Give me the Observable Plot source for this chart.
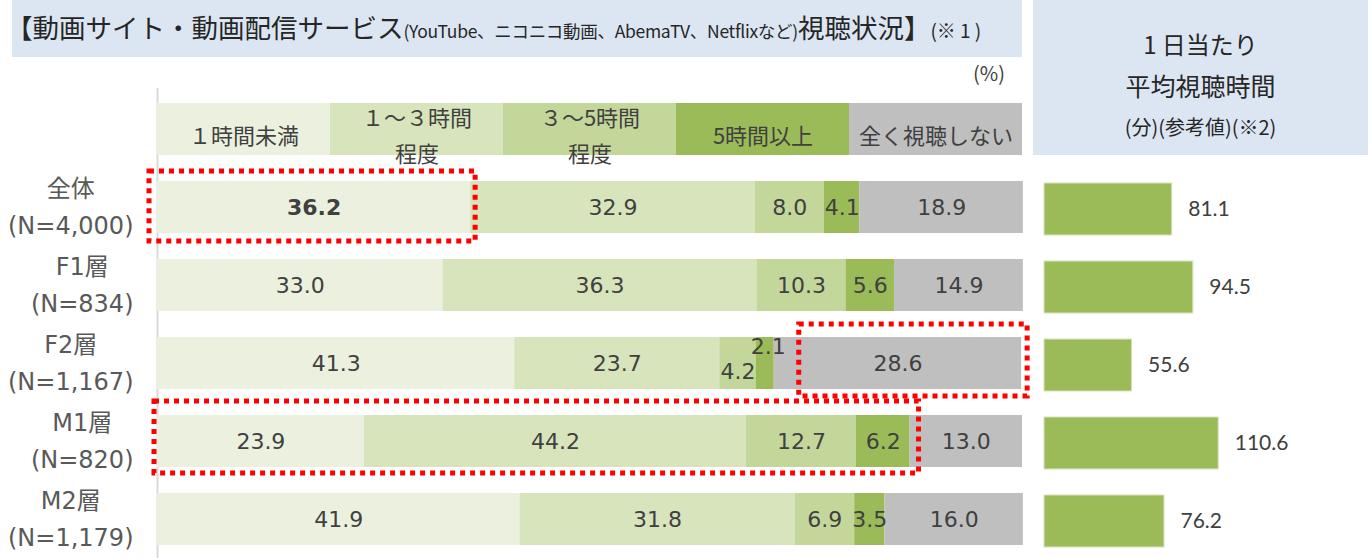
<!DOCTYPE html>
<html><head><meta charset="utf-8">
<script src="https://cdn.jsdelivr.net/npm/d3@7"></script>
<script src="https://cdn.jsdelivr.net/npm/@observablehq/plot@0.6"></script>
<style>
body{margin:0;background:#fff;}
#wrap{position:relative;width:1372px;height:558px;overflow:hidden;font-family:"Noto Sans CJK JP",sans-serif;color:#404040;}
#title{position:absolute;left:12px;top:0;width:1010px;height:57px;background:#dce6f2;z-index:2;white-space:nowrap;line-height:54px;text-indent:-6px;color:#262626;}
#title .big{font-size:26.5px;}
#title .small{font-size:17.5px;letter-spacing:-0.3px;}
#title .note{font-size:19px;}
#pct{position:absolute;left:973px;top:58px;font-size:20px;z-index:2;color:#404040;}
#rhead{position:absolute;left:1033px;top:0;width:335px;height:155px;background:#dce6f2;z-index:2;text-align:center;color:#262626;}
#rhead div{position:absolute;left:0;width:100%;}
#leftc{position:absolute;left:0;top:0;}
#rightc{position:absolute;left:1030px;top:0;}
</style></head>
<body>
<div id="wrap">
  <div id="title"><span class="big">【動画サイト・動画配信サービス</span><span class="small">(YouTube、ニコニコ動画、AbemaTV、Netflixなど)</span><span class="big">視聴状況】</span><span class="note">(※ 1 )</span></div>
  <div id="pct">(%)</div>
  <div id="rhead">
    <div style="top:26px;font-size:24px;line-height:36px;">1 日当たり</div>
    <div style="top:66px;font-size:25px;line-height:38px;">平均視聴時間</div>
    <div style="top:112px;font-size:20px;line-height:30px;">(分)(参考値)(※2)</div>
  </div>
  <div id="leftc"></div>
  <div id="rightc"></div>
</div>
<script>
// ---- data ----
const groups = ["全体", "F1層", "F2層", "M1層", "M2層"];
const sampleSizes = ["(N=4,000)", "(N=834)", "(N=1,167)", "(N=820)", "(N=1,179)"];
const categories = ["１時間未満", "１～３時間\n程度", "３～5時間\n程度", "5時間以上", "全く視聴しない"];
const categoryColors = ["#ebf1de", "#d8e4bc", "#c4d79b", "#9bbb59", "#bfbfbf"];
const lessThan1h = [36.2, 33.0, 41.3, 23.9, 41.9];
const from1to3h = [32.9, 36.3, 23.7, 44.2, 31.8];
const from3to5h = [8.0, 10.3, 4.2, 12.7, 6.9];
const over5h = [4.1, 5.6, 2.1, 6.2, 3.5];
const neverWatch = [18.9, 14.9, 28.6, 13.0, 16.0];
const avgMinutes = [81.1, 94.5, 55.6, 110.6, 76.2];

// ---- build tables ----
const series = [lessThan1h, from1to3h, from3to5h, over5h, neverWatch];
const segs = [];
groups.forEach((g, i) => {
  let acc = 0;
  series.forEach((s, k) => {
    const v = s[i];
    segs.push({group: g, cat: k, value: v, x1: acc, x2: acc + v, color: categoryColors[k]});
    acc += v;
  });
});
const legendRow = "凡例";
const legendSegs = categories.map((c, k) => ({
  label: c, x1: k * 100 / categories.length, x2: (k + 1) * 100 / categories.length, color: categoryColors[k]
}));
const yDomain = [legendRow, ...groups];
const avgData = groups.map((g, i) => ({group: g, value: avgMinutes[i]}));

const isBold = d => d.group === "全体" && d.cat === 0;
const isNudgedDown = d => d.group === "F2層" && d.cat === 2;
const isNudgedUp = d => d.group === "F2層" && d.cat === 3;
const plain = segs.filter(d => !isBold(d) && !isNudgedDown(d) && !isNudgedUp(d));

// highlight boxes (category index ranges)
const highlights = [
  {group: "全体", from: 0, to: 1},
  {group: "F2層", from: 4, to: 5},
  {group: "M1層", from: 0, to: 4}
];
const hl = highlights.map(h => {
  const row = segs.filter(d => d.group === h.group);
  return {group: h.group, x1: row[h.from].x1, x2: row[h.to - 1].x2};
});

// label measurement
const ctx = document.createElement("canvas").getContext("2d");
const LABEL_FONT = "'DejaVu Sans','Noto Sans CJK JP',sans-serif";
const LABEL_SIZE = 24;
ctx.font = LABEL_SIZE + "px " + LABEL_FONT;

const valFont = "'DejaVu Sans',Verdana,sans-serif";
const cjk = "'Noto Sans CJK JP',sans-serif";
const mid = d => (d.x1 + d.x2) / 2;
const dashed = {fill: "none", stroke: "#ff0000", strokeWidth: 5, strokeDasharray: "5 5"};

const rowLabelMarks = groups.flatMap((g, i) => {
  const w = ctx.measureText(sampleSizes[i]).width;
  return [
    Plot.text([g], {x: () => 0, y: d => d, text: d => d, dx: -24 - w / 2, dy: -18, textAnchor: "middle", fontSize: LABEL_SIZE, fontFamily: LABEL_FONT, fill: "#595959"}),
    Plot.text([sampleSizes[i]], {x: () => 0, y: () => g, text: d => d, dx: -24, dy: 19, textAnchor: "end", fontSize: LABEL_SIZE, fontFamily: LABEL_FONT, fill: "#595959"})
  ];
});

const left = Plot.plot({
  width: 1030, height: 558,
  marginLeft: 157, marginRight: 8, marginTop: 100, marginBottom: 10.6,
  x: {domain: [0, 100], axis: null},
  y: {domain: yDomain, axis: null, paddingInner: 0.33, paddingOuter: 0},
  color: {type: "identity"},
  style: {background: "transparent", overflow: "visible"},
  marks: [
    Plot.ruleX([0], {stroke: "#d9d9d9", strokeWidth: 2, insetTop: -12, insetBottom: -11}),
    Plot.barX(legendSegs, {x1: "x1", x2: "x2", y: () => legendRow, fill: "color"}),
    Plot.text(legendSegs, {x: mid, y: () => legendRow, text: "label", dy: 3, fontSize: 22, lineHeight: 1.65, fontFamily: cjk, fill: "#404040"}),
    Plot.barX(segs, {x1: "x1", x2: "x2", y: "group", fill: "color"}),
    Plot.text(plain, {x: mid, y: "group", text: d => d.value.toFixed(1), fontSize: 22, fontFamily: valFont, fill: "#404040"}),
    Plot.text(segs.filter(isBold), {x: mid, y: "group", text: d => d.value.toFixed(1), fontSize: 22, fontWeight: "bold", fontFamily: valFont, fill: "#404040"}),
    Plot.text(segs.filter(isNudgedDown), {x: mid, y: "group", text: d => d.value.toFixed(1), dy: 8, fontSize: 22, fontFamily: valFont, fill: "#404040"}),
    Plot.text(segs.filter(isNudgedUp), {x: mid, y: "group", text: d => d.value.toFixed(1), dx: 3, dy: -17, fontSize: 22, fontFamily: valFont, fill: "#404040"}),
    ...rowLabelMarks,
    Plot.barX([hl[0]], {x1: "x1", x2: "x2", y: "group", ...dashed, insetLeft: -8, insetRight: -5, insetTop: -10, insetBottom: -8}),
    Plot.barX([hl[1]], {x1: "x1", x2: "x2", y: "group", ...dashed, insetLeft: 25, insetRight: -6, insetTop: -13, insetBottom: -7}),
    Plot.barX([hl[2]], {x1: "x1", x2: "x2", y: "group", ...dashed, insetLeft: -3, insetRight: -9, insetTop: -14, insetBottom: -6})
  ]
});
document.getElementById("leftc").appendChild(left);

const right = Plot.plot({
  width: 342, height: 558,
  marginLeft: 14, marginRight: 13, marginTop: 100, marginBottom: 10.6,
  x: {domain: [0, 200], axis: null},
  y: {domain: yDomain, axis: null, paddingInner: 0.33, paddingOuter: 0},
  style: {background: "transparent", overflow: "visible"},
  marks: [
    Plot.barX(avgData, {x: "value", y: "group", fill: "#9bbb59", stroke: "#d7e4bd", strokeWidth: 1, insetTop: 2, insetBottom: -2}),
    Plot.text(avgData, {x: "value", y: "group", text: d => d.value.toFixed(1), dx: 16, dy: 2, textAnchor: "start", fontSize: 21, fontFamily: "Lato, sans-serif", fill: "#404040"})
  ]
});
document.getElementById("rightc").appendChild(right);
</script>
</body></html>
